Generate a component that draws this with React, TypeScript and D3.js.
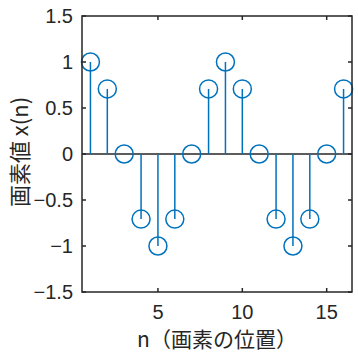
import React from "react";
import * as d3 from "d3";

// Sample index and pixel value of the sequence
const nValues = [1, 2, 3, 4, 5, 6, 7, 8, 9, 10, 11, 12, 13, 14, 15, 16];
const xValues = [1, 0.707, 0, -0.707, -1, -0.707, 0, 0.707, 1, 0.707, 0, -0.707, -1, -0.707, 0, 0.707];
const xTicks = [5, 10, 15];
const yTicks = [-1.5, -1, -0.5, 0, 0.5, 1, 1.5];
const yTickLabels = ["−1.5", "−1", "−0.5", "0", "0.5", "1", "1.5"];
const xTitle = "n（画素の位置）";
const yTitle = "画素値 x(n)";

const W = 358;
const H = 360;
const left = 82;
const right = 352;
const top = 16;
const bottom = 292;
const axisColor = "#262626";
const stemColor = "#0072BD";
const tickLen = 4;

export default function App() {
  const x = d3.scaleLinear().domain([0.5, 16.5]).range([left, right]);
  const y = d3.scaleLinear().domain([-1.5, 1.5]).range([bottom, top]);
  const tickFont = "'Liberation Sans', Arial, sans-serif";
  const labelFont = "'Noto Sans CJK JP', sans-serif";

  return (
    <svg
      width={W}
      height={H}
      style={{ position: "absolute", left: 0, top: 0, background: "#fff" }}
    >
      {/* baseline */}
      <line x1={left} x2={right} y1={y(0)} y2={y(0)} stroke={axisColor} strokeWidth={1.5} />
      {/* stems */}
      {nValues.map((n, i) => (
        <line
          key={"s" + n}
          x1={x(n)}
          x2={x(n)}
          y1={y(0)}
          y2={y(xValues[i])}
          stroke={stemColor}
          strokeWidth={1.5}
        />
      ))}
      {nValues.map((n, i) => (
        <circle
          key={"c" + n}
          cx={x(n)}
          cy={y(xValues[i])}
          r={9}
          fill="none"
          stroke={stemColor}
          strokeWidth={1.5}
        />
      ))}
      {/* box */}
      <rect
        x={left}
        y={top}
        width={right - left}
        height={bottom - top}
        fill="none"
        stroke={axisColor}
        strokeWidth={1.5}
      />
      {/* y ticks */}
      {yTicks.map((t, i) => (
        <g key={"y" + t}>
          <line x1={left} x2={left + tickLen} y1={y(t)} y2={y(t)} stroke={axisColor} strokeWidth={1.5} />
          <line x1={right} x2={right - tickLen} y1={y(t)} y2={y(t)} stroke={axisColor} strokeWidth={1.5} />
          <text
            x={left - 9}
            y={y(t)}
            dy="0.35em"
            textAnchor="end"
            fontFamily={tickFont}
            fontSize={20}
            fill={axisColor}
          >
            {yTickLabels[i]}
          </text>
        </g>
      ))}
      {/* x ticks */}
      {xTicks.map((t) => (
        <g key={"x" + t}>
          <line x1={x(t)} x2={x(t)} y1={bottom} y2={bottom - tickLen} stroke={axisColor} strokeWidth={1.5} />
          <line x1={x(t)} x2={x(t)} y1={top} y2={top + tickLen} stroke={axisColor} strokeWidth={1.5} />
          <text
            x={x(t)}
            y={bottom + 27}
            textAnchor="middle"
            fontFamily={tickFont}
            fontSize={20}
            fill={axisColor}
          >
            {t}
          </text>
        </g>
      ))}
      <text
        x={(left + right) / 2}
        y={347}
        textAnchor="middle"
        fontFamily={labelFont}
        fontSize={21}
        fill={axisColor}
      >
        {xTitle}
      </text>
      <text
        transform={`translate(28, 152) rotate(-90)`}
        textAnchor="middle"
        fontFamily={labelFont}
        fontSize={22}
        fill={axisColor}
      >
        {yTitle}
      </text>
    </svg>
  );
}
